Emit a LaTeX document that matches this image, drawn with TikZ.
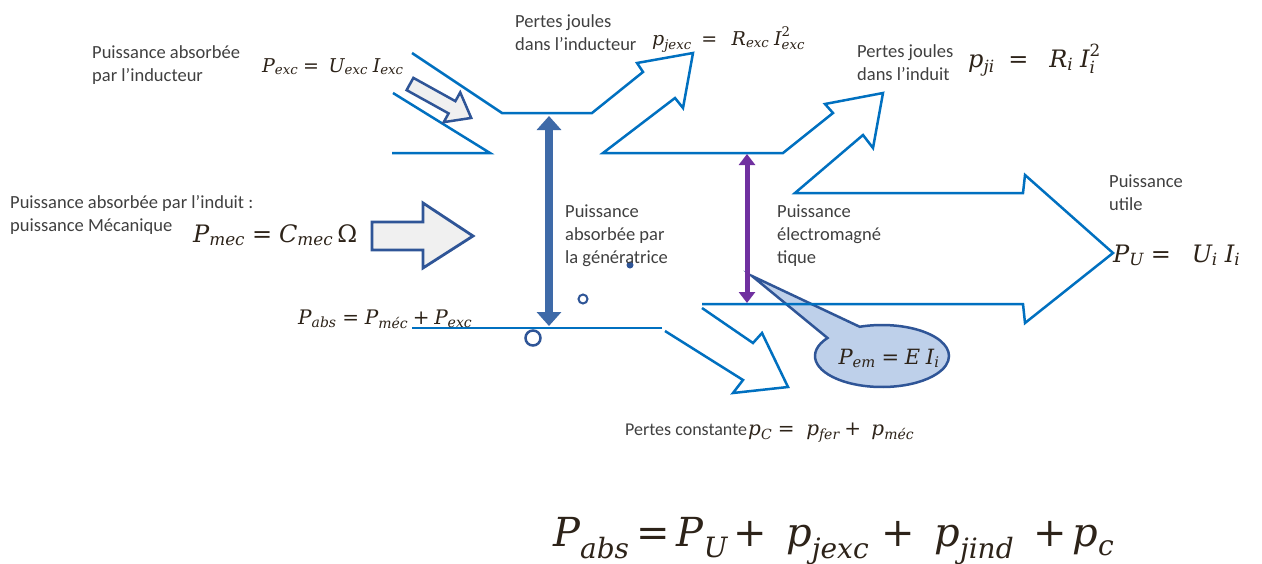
\documentclass[tikz,border=0pt]{standalone}
\usepackage{amsmath}
\usepackage{fontspec}
\newfontfamily\labfont{Carlito}
\newfontfamily\mfont{DejaVu Serif}
\usetikzlibrary{arrows.meta,shapes.callouts}
\definecolor{band}{RGB}{0,112,192}
\definecolor{txt}{RGB}{64,64,64}
\definecolor{mth}{RGB}{45,35,25}
\definecolor{darkb}{RGB}{47,85,151}
\definecolor{vblue}{RGB}{62,106,168}
\definecolor{purp}{RGB}{112,48,160}
\definecolor{bubble}{RGB}{190,208,234}
\definecolor{greyfill}{RGB}{240,240,240}
\newcommand{\vv}[2]{\text{#1}_{\text{#2}}}
\newcommand{\up}[1]{\text{\upshape #1}}
\newcommand{\eqsign}{\mathrel{\text{\upshape =}}}
\newcommand{\plussign}{\mathbin{\text{\upshape +}}}
\begin{document}
\begin{tikzpicture}[x=1pt,y=-1pt,
  bandline/.style={draw=band,line width=2.5pt,line join=miter},
  lbl/.style={font=\labfont\fontsize{18.5}{23}\selectfont,text=txt,align=left,anchor=north west,inner sep=0pt},
  lblb/.style={font=\labfont\fontsize{18}{23}\selectfont,text=txt,anchor=base west,inner sep=0pt},
  eq/.style={text=mth,anchor=base west,inner sep=0pt},
  msize/.style={font=\mfont\itshape\fontsize{#1}{#1}\selectfont},
  blockarrow/.style={draw=darkb,line width=2.8pt,fill=greyfill,line join=miter},
  vertarrow/.style={draw=vblue,line width=8pt,{Triangle[length=14pt,width=24pt]}-{Triangle[length=14pt,width=24pt]}},
  purparrow/.style={draw=purp,line width=5pt,{Triangle[length=11pt,width=16pt]}-{Triangle[length=11pt,width=16pt]}},
  ring/.style={draw=darkb,line width=2.5pt}]
\useasboundingbox (0,0) rectangle (1262,563);
\fill[white] (0,0) rectangle (1262,563);

% callout (drawn below the band lines)
\coordinate (ptip) at (752,276);
\node[ellipse callout, callout absolute pointer={(ptip)}, callout pointer arc=35,
      draw=darkb, fill=bubble, line width=2.5pt, minimum width=134pt, minimum height=62pt,
      inner sep=0pt] (pem) at (882,356) {};
\node[eq,msize=21,anchor=base] (pemtxt) at (889,364) {$\vv{P}{em} \eqsign \text{E}\;\vv{I}{i}$};

% power flow band
\draw[bandline] (412,53) -- (502,113) -- (592,113) -- (643,72) -- (637,63) -- (693,53)
  -- (683,108) -- (675,98) -- (603,153) -- (783,153) -- (833,113) -- (825,104) -- (883,93)
  -- (873,148) -- (863,135) -- (795,193) -- (1023,193) -- (1025,175) -- (1113,253)
  -- (1025,323) -- (1023,304) -- (702,304);
\draw[bandline] (393,93) -- (490,153) -- (392,153);
\draw[bandline] (702,308) -- (753,343) -- (762,333) -- (788,387) -- (733,393) -- (743,380) -- (665,331);
\draw[bandline] (662,328) -- (412,328);

% grey input arrows
\draw[blockarrow] (372,222) -- (423,222) -- (423,203) -- (473,236) -- (423,268) -- (423,250) -- (372,250) -- cycle;
\begin{scope}[shift={(410,84)},rotate=-29]
\draw[blockarrow,line width=2.5pt] (0,-7) -- (48,-7) -- (48,-17) -- (70,0) -- (48,17) -- (48,7) -- (0,7) -- cycle;
\end{scope}

% vertical arrows
\coordinate (va1) at (549,116);
\coordinate (va2) at (549,326);
\draw[vertarrow] (va1) -- (va2);
\coordinate (vp1) at (747,154);
\coordinate (vp2) at (747,303);
\draw[purparrow] (vp1) -- (vp2);

% small circles
\draw[ring] (533,338) circle (7.5);
\draw[ring,line width=2pt] (583,299) circle (4.5);
\fill[darkb] (630,265) circle (3.5);

% labels
\node[lbl] (l1) at (92,45) {Puissance absorbée\\par l’inducteur};
\node[eq,msize=19] (e1) at (262,72) {$\vv{P}{exc} \eqsign\; \vv{U}{exc}\;\vv{I}{exc}$};
\node[lbl] (l2) at (515,14) {Pertes joules\\dans l’inducteur};
\node[eq,msize=19] (e2) at (652,45) {$\vv{p}{jexc} \;\eqsign\;\; \vv{R}{exc}\;\text{I}_{\text{exc}}^{\up{2}}$};
\node[lbl] (l3) at (857,44) {Pertes joules\\dans l’induit};
\node[eq,msize=24] (e3) at (968,67) {$\vv{p}{ji} \;\eqsign\;\; \vv{R}{i}\;\text{I}_{\text{i}}^{\up{2}}$};
\node[lbl] (l4) at (10,195) {Puissance absorbée par l’induit :\\puissance Mécanique};
\node[eq,msize=24] (e4) at (193,242) {$\vv{P}{mec} \eqsign \vv{C}{mec}\,\up{Ω}$};
\node[eq,msize=20] (e5) at (298,324) {$\vv{P}{abs} \eqsign \vv{P}{méc} \plussign \vv{P}{exc}$};
\node[lbl] (l5) at (565,205) {Puissance\\absorbée par\\la génératrice};
\node[lbl] (l6) at (777,205) {Puissance\\électromagné\\tique};
\node[lbl] (l7) at (1109,175) {Puissance\\utile};
\node[eq,msize=24] (e6) at (1113,262) {$\vv{P}{U} \eqsign\;\; \vv{U}{i}\;\vv{I}{i}$};
\node[lblb] (l8) at (625,435) {Pertes constante};
\node[eq,msize=20] (e7) at (748,435) {$\vv{p}{C} \eqsign\; \vv{p}{fer} \plussign\; \vv{p}{méc}$};
\node[eq,msize=40] (e8) at (553,546) {$\vv{P}{abs} \eqsign \vv{P}{U} \plussign\;\; \vv{p}{jexc} \;\plussign\;\; \vv{p}{jind} \;\;\plussign \vv{p}{c}$};
\end{tikzpicture}
\end{document}
